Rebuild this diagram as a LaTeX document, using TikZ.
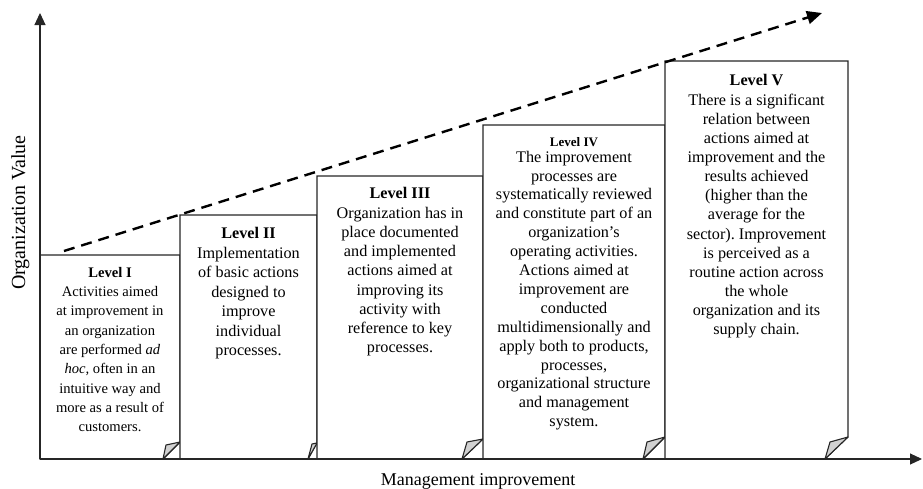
\documentclass[tikz,border=0pt]{standalone}
\usepackage{fontspec}
\setmainfont{Liberation Serif}
\usetikzlibrary{arrows.meta}
\frenchspacing
\newcommand{\fsz}[2]{\fontsize{#1}{#2}\selectfont}
\begin{document}
\begin{tikzpicture}[x=1pt,y=-1pt,
  boxline/.style={draw=black!85, line width=1.1pt, fill=white, line join=miter},
  foldfill/.style={draw=black!85, line width=1.1pt, fill=black!18, line join=round},
  axisline/.style={draw=black!85, line width=1.1pt, -{Triangle[length=12pt,width=11pt]}},
  trend/.style={draw=black, line width=2.4pt, dash pattern=on 11pt off 7pt, -{Triangle[length=15pt,width=13pt]}},
  lvltext/.style={align=center, inner sep=0pt, anchor=north},
  axlabel/.style={inner sep=0pt}
]
\useasboundingbox (0,0) rectangle (923,488);

% Level boxes with turned-down corners
\draw[boxline] (40,459) -- (40,255) -- (180,255) -- (180,442) -- (163,459) -- cycle;
\draw[foldfill] (180,442) -- (166,445) -- (163,459) -- cycle;

\draw[boxline] (180,459) -- (180,215) -- (317,215) -- (317,443) -- (308,459) -- cycle;
\draw[foldfill] (317,443) -- (312,444) -- (308,459) -- cycle;

\draw[boxline] (317,459) -- (317,176) -- (483,176) -- (483,439) -- (462,459) -- cycle;
\draw[foldfill] (483,439) -- (467,442) -- (462,459) -- cycle;

\draw[boxline] (483,459) -- (483,125) -- (665,125) -- (665,437) -- (643,459) -- cycle;
\draw[foldfill] (665,437) -- (647,442) -- (643,459) -- cycle;

\draw[boxline] (665,459) -- (665,61) -- (848,61) -- (848,437) -- (825,459) -- cycle;
\draw[foldfill] (848,437) -- (830,442) -- (825,459) -- cycle;

% Texts
\node[lvltext, font=\fsz{14.6}{19.3}] (t1) at (110,267) {\textbf{Level I}\\Activities aimed\\at improvement in\\an organization\\are performed \textit{ad}\\\textit{hoc,} often in an\\intuitive way and\\more as a result of\\customers.};
\node[lvltext, font=\fsz{16.2}{19.5}] (t2) at (248.5,227.5) {\textbf{Level II}\\Implementation\\of basic actions\\designed to\\improve\\individual\\processes.};
\node[lvltext, font=\fsz{16.2}{19.25}] (t3) at (400,187.5) {\textbf{Level III}\\Organization has in\\place documented\\and implemented\\actions aimed at\\improving its\\activity with\\reference to key\\processes.};
\node[lvltext, font=\fsz{16.2}{18.9}] (t4) at (574,137) {{\fsz{13}{18.9}\textbf{Level IV}}\\[-3pt]The improvement\\processes are\\systematically reviewed\\and constitute part of an\\organization’s\\operating activities.\\Actions aimed at\\improvement are\\conducted\\multidimensionally and\\apply both to products,\\processes,\\organizational structure\\and management\\system.};
\node[lvltext, font=\fsz{16.2}{19.15}] (t5) at (756.5,74.5) {\textbf{Level V}\\There is a significant\\relation between\\actions aimed at\\improvement and the\\results achieved\\(higher than the\\average for the\\sector). Improvement\\is perceived as a\\routine action across\\the whole\\organization and its\\supply chain.};

% Axes
\coordinate (O) at (40,459);
\coordinate (ytip) at (40,13);
\coordinate (xtip) at (922,459);
\draw[axisline] (O) -- (ytip);
\draw[axisline] (O) -- (xtip);

\node[axlabel, font=\fsz{20}{22}, rotate=90, anchor=base] (ylab) at (25,212.5) {Organization Value};
\node[axlabel, font=\fsz{18}{20}, anchor=base] (xlab) at (478,485) {Management improvement};

% Trend
\coordinate (ds) at (64,251);
\coordinate (de) at (822,13);
\draw[trend] (ds) -- (de);
\end{tikzpicture}
\end{document}
